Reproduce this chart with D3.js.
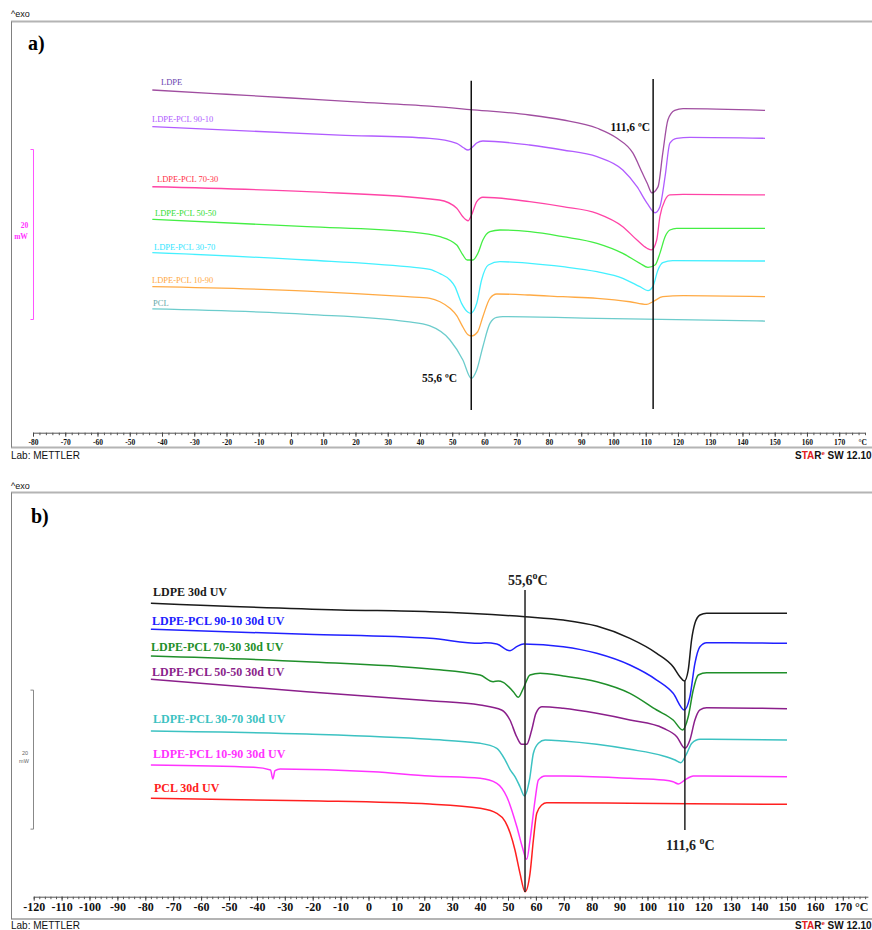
<!DOCTYPE html>
<html><head><meta charset="utf-8">
<script src="https://cdn.jsdelivr.net/npm/d3@7"></script>
<style>body{margin:0;background:#fff}svg{display:block}</style>
</head><body>
<svg id="c" width="872" height="930"></svg>
<script>
// ---------- DATA : panel a (T in °C, heat flow in mW, arbitrary offset) ----------
const a_LDPE = [[-43,40.0],[-20,39.5],[0,39.06],[20,38.6],[43,38.1],[55.5,37.7],[74,37.06],[84,36.5],[95,35.5],[101,34.35],[106,32.6],[109,30.2],[110.5,29.0],[111.9,27.9],[113.8,28.6],[115.3,32.6],[116.9,36.5],[119,37.6],[121.6,37.8],[147,37.6]];
const a_9010 = [[-43,35.68],[15,34.7],[43,34.32],[51.4,33.73],[53.5,33.2],[54.9,32.94],[56.3,33.3],[57.6,33.76],[59.5,34.0],[74,33.53],[84.3,32.94],[94.9,32.15],[102.9,30.59],[107.3,28.62],[110.4,26.7],[112.9,25.56],[114.4,26.27],[116,29.8],[117.5,33.76],[119.6,34.32],[123.7,34.43],[147,34.32]];
const a_7030 = [[-43,28.62],[5,28.04],[46,27.06],[51.4,26.08],[53.3,25.09],[54.9,24.62],[56,25.3],[57.6,26.86],[59.5,27.38],[74,26.86],[84.3,26.27],[94.9,25.49],[102.9,23.92],[107.3,22.35],[110.4,21.38],[111.8,21.18],[113.4,22.35],[114.4,25.09],[116,27.06],[117.5,27.65],[121.6,27.73],[147,27.65]];
const a_5050 = [[-43,24.79],[5,23.92],[36,23.33],[46.2,22.74],[51.4,21.76],[53.3,20.59],[54.6,20.0],[56.4,20.0],[58,20.82],[59.5,22.35],[61.7,23.33],[64.8,23.53],[74.1,23.33],[84.3,22.74],[94.9,21.96],[102.9,20.78],[108.2,19.61],[110.7,19.14],[112.9,19.41],[114.4,20.78],[116,22.74],[117.5,23.53],[119.6,23.73],[147,23.73]];
const a_3070 = [[-43,20.86],[5,20.0],[36,19.21],[43.1,18.91],[46.2,18.4],[49.3,17.65],[50.8,16.9],[52.9,14.9],[54.9,13.85],[55.7,13.73],[57.6,14.91],[59.1,17.65],[61.2,19.41],[64.8,19.8],[74.1,19.61],[84.3,19.21],[94.9,18.62],[102.9,17.85],[108.2,16.86],[110.7,16.39],[112.2,16.86],[113.8,18.82],[115.3,19.68],[118.4,19.92],[147,19.88]];
const a_1090 = [[-43,16.86],[5,16.35],[36,15.68],[43.1,15.49],[46.2,15.09],[49.3,14.32],[51.5,13.4],[52.9,12.4],[54.9,11.2],[55.9,11.06],[57.9,11.56],[59.5,13.33],[61.7,15.49],[63.8,16.0],[74.1,15.88],[84.3,15.68],[94.9,15.49],[105.1,15.09],[110.3,14.78],[112.2,15.09],[115.3,15.68],[121.6,15.8],[147,15.68]];
const a_PCL  = [[-43,14.24],[5,13.61],[36,12.74],[43.1,12.24],[49.3,10.59],[53.3,8.24],[55.9,6.08],[57.6,7.06],[59.5,9.8],[61.7,12.55],[63.8,13.26],[65.7,13.33],[94.9,13.14],[147,12.82]];

// ---------- DATA : panel b ----------
const b_LDPE = [[-78,42.69],[-10.2,41.73],[22,41.48],[56.1,40.76],[69.8,40.29],[81.8,39.42],[93.7,37.65],[103.3,35.5],[109.2,33.57],[111.6,32.13],[113.2,31.51],[114.6,33.09],[115.8,37.41],[117,39.81],[118.8,41.01],[121.2,41.25],[150,41.25]];
const b_9010 = [[-78,38.95],[-22.2,38.23],[22,37.65],[40,36.94],[41.8,37.02],[46,36.83],[50.7,35.87],[53.1,36.45],[55.5,36.83],[69.8,36.45],[81.8,35.5],[93.7,33.81],[103.3,31.65],[109.2,29.74],[113.2,27.34],[115.2,29.25],[117,34.06],[118.8,36.45],[121.2,37.02],[129.6,37.02],[150,36.94]];
const b_7030 = [[-78,35.11],[-22.2,34.29],[22,33.24],[40,32.37],[44.7,31.41],[46.5,31.51],[48.3,31.32],[51.9,29.97],[53.7,29.17],[55.5,30.46],[57.9,32.37],[61.5,32.62],[69.8,32.23],[81.8,31.41],[93.7,29.74],[103.3,27.34],[109.2,25.9],[112.6,24.46],[114.6,26.37],[116.4,30.22],[118.2,32.37],[121.2,32.7],[150,32.7]];
const b_5050 = [[-78,31.76],[-22.2,29.97],[22,28.68],[40,28.06],[47.7,27.34],[50.7,25.9],[53.1,23.5],[54.9,22.4],[56.7,22.4],[58.5,24.46],[60,26.86],[62.1,27.81],[69.8,27.58],[81.8,26.86],[93.7,25.9],[105.7,24.71],[110.5,23.5],[113.4,21.83],[115.2,23.02],[117,25.9],[118.8,27.34],[121.2,27.67],[150,27.53]];
const b_3070 = [[-78,24.32],[-22.2,23.88],[22,23.12],[40,22.55],[46,21.83],[49,20.14],[50.8,18.71],[52.5,17.74],[54.3,16.3],[55.9,14.96],[57.7,17.27],[59.1,21.11],[60.9,22.55],[63.3,23.02],[69.8,22.88],[81.8,22.4],[93.7,21.68],[105.7,20.72],[109.9,20.14],[111.9,19.76],[114.1,21.11],[115.9,22.55],[118.8,23.12],[150,23.02]];
const b_1090 = [[-78,19.42],[-41.1,19.09],[-35.1,18.71],[-34.3,17.41],[-33.5,18.6],[-31.7,18.85],[1.7,18.46],[22,17.84],[40,17.51],[46,16.79],[49.6,14.82],[53.2,10.5],[55.1,7.67],[56.7,5.86],[57.9,8.63],[59.7,14.39],[60.9,17.27],[63.3,17.84],[69.8,17.84],[93.7,17.51],[105.7,17.27],[109.2,17.02],[111.1,16.69],[113.4,17.27],[116.4,17.84],[150,17.74]];
const b_PCL  = [[-78,14.63],[-22.2,14.29],[22,13.81],[40,13.19],[46,12.47],[49,11.27],[50.8,9.6],[52.5,7.19],[54.3,3.84],[56.1,1.19],[57.9,3.84],[59.1,8.63],[60.3,12.47],[62.1,13.67],[63.9,14.0],[93.7,13.91],[150,13.77]];

// labels / colours
const namesA  = ["LDPE","LDPE-PCL 90-10","LDPE-PCL 70-30","LDPE-PCL 50-50","LDPE-PCL 30-70","LDPE-PCL 10-90","PCL"];
const seriesA = [a_LDPE,a_9010,a_7030,a_5050,a_3070,a_1090,a_PCL];
const lineColA  = ["#a04ea0","#b15cff","#ff44a6","#44ee44","#44f0ff","#ffaa44","#6ccccc"];
const labelColA = ["#6a44b0","#b15cff","#ff3348","#33dd33","#33e6ff","#ffaa44","#66aaaa"];
const namesB  = ["LDPE 30d UV","LDPE-PCL 90-10 30d UV","LDPE-PCL 70-30 30d UV","LDPE-PCL 50-50 30d UV","LDPE-PCL 30-70 30d UV","LDPE-PCL 10-90 30d UV","PCL 30d UV"];
const seriesB = [b_LDPE,b_9010,b_7030,b_5050,b_3070,b_1090,b_PCL];
const colB    = ["#1a1a1a","#2020ff","#1f8f2a","#8b1f8b","#3cc2c2","#ff33ff","#ff2020"];
const ticksMajorA = d3.range(-80,171,10);
const ticksMajorB = d3.range(-120,171,10);
const peakLabelsA = ["55,6 ºC","111,6 ºC"];

// ---------- DRAW ----------
const svg = d3.select("#c");
const SERIF = "'Liberation Serif','Times New Roman',Times,serif";
const SANS  = "'Liberation Sans',Arial,Helvetica,sans-serif";

const xA = d3.scaleLinear().domain([-80,178]).range([33,865]);
const yA = d3.scaleLinear().domain([0,46]).range([430,39]);
const xB = d3.scaleLinear().domain([-120,179]).range([33.7,867.9]);
const yB = d3.scaleLinear().domain([0,50]).range([900,552.5]);

function frame(top,bottom){
  svg.append("line").attr("x1",11).attr("x2",872).attr("y1",top).attr("y2",top).attr("stroke","#b4b4b4").attr("stroke-width",2);
  svg.append("line").attr("x1",11).attr("x2",872).attr("y1",bottom).attr("y2",bottom).attr("stroke","#b4b4b4").attr("stroke-width",2);
  svg.append("line").attr("x1",11.5).attr("x2",11.5).attr("y1",top).attr("y2",bottom).attr("stroke","#808080").attr("stroke-width",1);
}
function axis(x,yPos,major,fs,pad,unitT){
  const minor = d3.range(x.domain()[0], x.domain()[1]+0.01, 2);
  const g1 = svg.append("g").attr("transform",`translate(0,${yPos})`)
    .call(d3.axisBottom(x).tickValues(minor).tickSize(2.5).tickSizeOuter(0).tickFormat(""));
  g1.select(".domain").attr("stroke","#555");
  g1.selectAll(".tick line").attr("stroke","#555");
  const g2 = svg.append("g").attr("transform",`translate(0,${yPos})`)
    .call(d3.axisBottom(x).tickValues(major).tickSize(4).tickPadding(pad).tickFormat(d=>String(d)));
  g2.select(".domain").remove();
  g2.selectAll(".tick line").attr("stroke","#444");
  g2.selectAll("text").attr("font-family",SERIF).attr("font-weight","bold").attr("font-size",fs).attr("fill","#111");
  svg.append("text").attr("x",x(unitT)).attr("y",yPos+4+pad).attr("dy","0.71em").attr("text-anchor","middle")
    .attr("font-family",SERIF).attr("font-weight","bold").attr("font-size",fs).attr("fill","#111").text("°C");
}
function footer(y){
  svg.append("text").attr("x",11).attr("y",y).attr("font-family",SANS).attr("font-size",10).attr("fill","#111").text("Lab: METTLER");
  const t = svg.append("text").attr("x",795).attr("y",y).attr("font-family",SANS).attr("font-size",10).attr("font-weight","bold").attr("fill","#111");
  t.append("tspan").text("S");
  t.append("tspan").attr("fill","#e02020").text("TA");
  t.append("tspan").text("R");
  t.append("tspan").attr("fill","#e02020").attr("font-size",6).attr("dy",-4).text("e");
  t.append("tspan").attr("dy",4).text(" SW 12.10");
}
function exo(y){
  svg.append("text").attr("x",11).attr("y",y).attr("font-family",SANS).attr("font-size",9).attr("fill","#111").text("^exo");
}
const lineGen = (x,y)=> d3.line().x(d=>x(d[0])).y(d=>y(d[1])).curve(d3.curveMonotoneX);

// ===== Panel a =====
exo(17);
frame(21.5,447.5);
svg.append("text").attr("x",28).attr("y",50).attr("font-family",SERIF).attr("font-weight","bold").attr("font-size",20).text("a)");
// scale bar 20 mW
svg.append("path").attr("d",`M30.5,${yA(33)}H33.5V${yA(13)}H30.5`).attr("fill","none").attr("stroke","#ff55ff").attr("stroke-width",1);
svg.append("text").attr("x",24.5).attr("y",227.5).attr("text-anchor","middle").attr("font-family",SERIF).attr("font-weight","bold").attr("font-size",7.5).attr("fill","#ff33ff").text("20");
svg.append("text").attr("x",21).attr("y",238.5).attr("text-anchor","middle").attr("font-family",SERIF).attr("font-weight","bold").attr("font-size",7.5).attr("fill","#ff33ff").text("mW");
axis(xA,432.7,ticksMajorA,7.5,3,177.3);
seriesA.forEach((s,i)=>{
  svg.append("path").datum(s).attr("d",lineGen(xA,yA)).attr("fill","none").attr("stroke",lineColA[i]).attr("stroke-width",1.3);
});
const labYA = [84.5,122,181.5,216,250,283,306];
const labXA = [161,152,157,155,154,152,153];
namesA.forEach((n,i)=>{
  svg.append("text").attr("x",labXA[i]).attr("y",labYA[i]).attr("font-family",SERIF).attr("font-size",8.5).attr("fill",labelColA[i]).text(n);
});
// vertical markers
[[55.9,41.1,2.35],[112.3,41.3,2.47]].forEach(m=>{
  svg.append("line").attr("x1",xA(m[0])).attr("x2",xA(m[0])).attr("y1",yA(m[1])).attr("y2",yA(m[2])).attr("stroke","#111").attr("stroke-width",1.5);
});
svg.append("text").attr("x",457).attr("y",382).attr("text-anchor","end").attr("font-family",SERIF).attr("font-weight","bold").attr("font-size",11.5).attr("fill","#111").text(peakLabelsA[0]);
svg.append("text").attr("x",650).attr("y",131).attr("text-anchor","end").attr("font-family",SERIF).attr("font-weight","bold").attr("font-size",11.5).attr("fill","#111").text(peakLabelsA[1]);
footer(459);

// ===== Panel b =====
exo(489);
frame(492.5,919);
svg.append("text").attr("x",31).attr("y",523).attr("font-family",SERIF).attr("font-weight","bold").attr("font-size",20).text("b)");
svg.append("path").attr("d",`M30.5,${yB(30.2)}H33.5V${yB(10.2)}H30.5`).attr("fill","none").attr("stroke","#888").attr("stroke-width",1);
svg.append("text").attr("x",25).attr("y",755).attr("text-anchor","middle").attr("font-family",SANS).attr("font-size",5.5).attr("fill","#666").text("20");
svg.append("text").attr("x",24).attr("y",763).attr("text-anchor","middle").attr("font-family",SANS).attr("font-size",5.5).attr("fill","#666").text("mW");
axis(xB,896.7,ticksMajorB,12,2,176.8);
seriesB.forEach((s,i)=>{
  svg.append("path").datum(s).attr("d",lineGen(xB,yB)).attr("fill","none").attr("stroke",colB[i]).attr("stroke-width",1.5);
});
const labYB = [596,624.5,651,675.5,723,757.5,792];
const labXB = [153,152,151,152,153,153,154];
namesB.forEach((n,i)=>{
  svg.append("text").attr("x",labXB[i]).attr("y",labYB[i]).attr("font-family",SERIF).attr("font-weight","bold").attr("font-size",12).attr("fill",colB[i]).text(n);
});
[[56.1,44.6,1.15],[113.4,31.5,10.07]].forEach(m=>{
  svg.append("line").attr("x1",xB(m[0])).attr("x2",xB(m[0])).attr("y1",yB(m[1])).attr("y2",yB(m[2])).attr("stroke","#222").attr("stroke-width",1.5);
});
const t1 = svg.append("text").attr("x",508).attr("y",585).attr("font-family",SERIF).attr("font-weight","bold").attr("font-size",14).attr("fill","#222");
t1.append("tspan").text("55,6");
t1.append("tspan").attr("dy",-6).attr("font-size",10).text("o");
t1.append("tspan").attr("dy",6).text("C");
const t2 = svg.append("text").attr("x",666).attr("y",850).attr("font-family",SERIF).attr("font-weight","bold").attr("font-size",14).attr("fill","#222");
t2.append("tspan").text("111,6 ");
t2.append("tspan").attr("dy",-6).attr("font-size",10).text("o");
t2.append("tspan").attr("dy",6).text("C");
footer(929);
</script>
</body></html>
